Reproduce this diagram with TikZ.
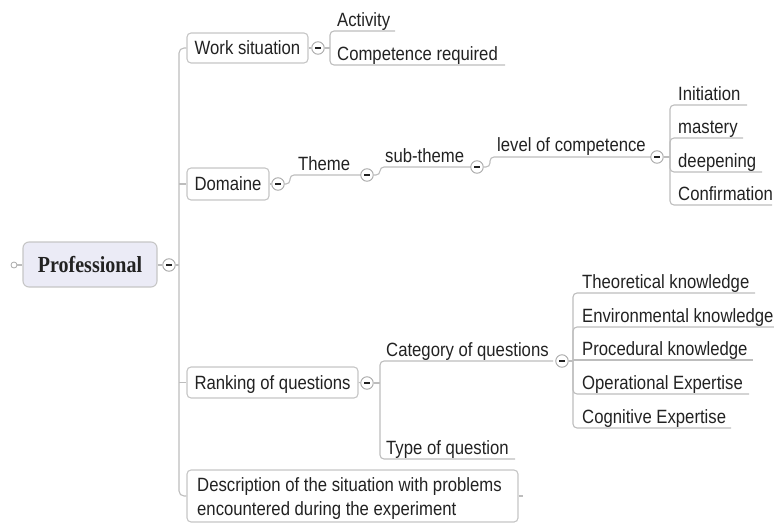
\documentclass[tikz,border=0pt]{standalone}
\usepackage{fontspec}
\setmainfont{Liberation Sans}[FakeStretch=0.87]
\newfontfamily\rootfont{Liberation Serif}[FakeStretch=0.87]
\definecolor{linec}{HTML}{BDBDBD}
\definecolor{boxc}{HTML}{C6C6C6}
\definecolor{rootfill}{HTML}{EBEBF6}
\definecolor{txt}{HTML}{222222}
\definecolor{togc}{HTML}{A8A8A8}
\begin{document}
\begin{tikzpicture}[x=1pt,y=-1pt,
  font=\fontsize{19.2}{22}\selectfont,
  line/.style={draw=linec, line width=1.1pt},
  box/.style={draw=boxc, line width=1.1pt, rounded corners=4pt, fill=white, inner sep=0pt,
    text height=13.8pt, text depth=0pt, text=txt},
  lbl/.style={anchor=base west, inner sep=0pt, text=txt},
  tog/.style={circle, draw=togc, fill=white, line width=0.9pt, minimum size=12.5pt, inner sep=0pt,
    path picture={\draw[txt, line width=1.9pt] ([xshift=-2.8pt]path picture bounding box.center) -- ([xshift=2.8pt]path picture bounding box.center);}},
]
\useasboundingbox (0,0) rectangle (774,525);

% root
\node[box, fill=rootfill, rounded corners=6pt, minimum width=134pt, minimum height=45pt,
  font=\rootfont\bfseries\fontsize{23}{26}\selectfont, text height=15.2pt] (root) at (90,264.5) {Professional};
\node[circle, draw=togc, line width=0.8pt, minimum size=6pt, inner sep=0pt, fill=white] (rl) at (14,265) {};
\draw[line] (rl) -- (root.west |- rl);
\node[tog] (rt) at (169,265) {};
\draw[line] (root.east |- rt) -- (rt);
\coordinate (rj) at (179,265);
\draw[line] (rt) -- (rj);

% main boxes
\node[box, minimum width=121pt, minimum height=30pt] (ws) at (247.5,48) {Work situation};
\node[box, minimum width=82pt, minimum height=32pt] (dom) at (228,184) {Domaine};
\node[box, minimum width=171pt, minimum height=31pt] (rank) at (272.5,382.5) {Ranking of questions};
\node[box, minimum width=331pt, minimum height=52pt] (desc) at (352.5,496) {};
\node[lbl] (d1) at (197,491) {Description of the situation with problems};
\node[lbl] (d2) at (197,515) {encountered during the experiment};

% trunk
\draw[line, rounded corners=5pt] (ws.west) -- (179,48) -- (179,496) -- (desc.west);
\draw[line] (179,184) -- (dom.west);
\draw[line] (179,382.5) -- (rank.west);
\coordinate (ds) at (523,496);
\draw[line] (desc.east) -- (ds);

% work situation
\node[tog] (t1) at (318,48) {};
\draw[line] (ws.east) -- (t1);
\draw[line] (t1) -- (330,48);
\draw[line, rounded corners=4pt] (395,31) -- (330,31) -- (330,65) -- (505,65);
\node[lbl] (act) at (337,26) {Activity};
\node[lbl] (comp) at (337,60) {Competence required};

% domaine chain
\node[tog] (t2) at (278,184) {};
\draw[line] (dom.east) -- (t2);
\draw[line, rounded corners=4pt] (t2) -- (290,184) -- (290,175) -- (361,175);
\node[lbl] (theme) at (298,170) {Theme};
\node[tog] (t3) at (367,175) {};
\draw[line, rounded corners=4pt] (t3) -- (380,175) -- (380,167) -- (471,167);
\node[lbl] (sub) at (385,162) {sub-theme};
\node[tog] (t4) at (477,167) {};
\draw[line, rounded corners=4pt] (t4) -- (490,167) -- (490,157) -- (651,157);
\node[lbl] (lev) at (497,151.5) {level of competence};
\node[tog] (t5) at (657,157) {};
\draw[line] (t5) -- (670,157);
\draw[line, rounded corners=4pt] (670,157) -- (670,105) -- (747,105);
\draw[line, rounded corners=4pt] (670,157) -- (670,138) -- (743,138);
\draw[line, rounded corners=4pt] (670,157) -- (670,172) -- (762,172);
\draw[line, rounded corners=4pt] (670,157) -- (670,205) -- (772,205);
\node[lbl] (ini) at (678,100) {Initiation};
\node[lbl] (mas) at (678,133) {mastery};
\node[lbl] (dee) at (678,167) {deepening};
\node[lbl] (con) at (678,200) {Confirmation};

% ranking
\node[tog] (t6) at (367,383) {};
\draw[line] (rank.east) -- (t6);
\draw[line] (t6) -- (380,383);
\draw[line, rounded corners=4pt] (553,361) -- (380,361) -- (380,459) -- (515,459);
\node[lbl] (cat) at (386,356) {Category of questions};
\node[lbl] (typ) at (386,454) {Type of question};
\node[tog] (t7) at (562,361) {};
\draw[line] (t7) -- (573,361);
\draw[line, rounded corners=4pt] (573,361) -- (573,293) -- (755,293);
\draw[line, rounded corners=4pt] (573,361) -- (573,327) -- (774,327);
\draw[line] (573,360) -- (753,360);
\draw[line, rounded corners=4pt] (573,361) -- (573,394) -- (749,394);
\draw[line, rounded corners=4pt] (573,361) -- (573,428) -- (731,428);
\node[lbl] (th) at (582,288) {Theoretical knowledge};
\node[lbl] (en) at (582,322) {Environmental knowledge};
\node[lbl] (pr) at (582,355) {Procedural knowledge};
\node[lbl] (op) at (582,389) {Operational Expertise};
\node[lbl] (co) at (582,423) {Cognitive Expertise};
\end{tikzpicture}
\end{document}
